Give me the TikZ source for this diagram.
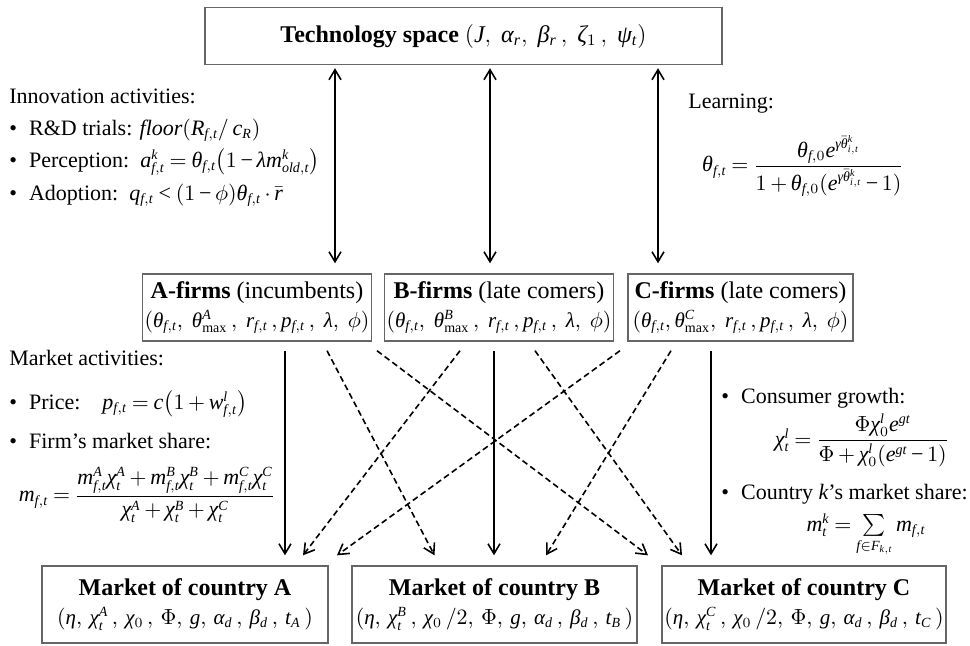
\documentclass[tikz,border=0pt]{standalone}
\usepackage{amsmath}
\usepackage{fontspec}
\setmainfont{Liberation Serif}
% Times-like italic letters and signs in math
\DeclareSymbolFont{tmsletters}{TU}{\rmdefault}{m}{it}
\newcount\lettercode
\lettercode=`a
\loop
	\Umathcode\lettercode="7 \symtmsletters \lettercode
	\Umathcode\numexpr\lettercode-32\relax="7 \symtmsletters \numexpr\lettercode-32\relax
	\ifnum\lettercode<`z \advance\lettercode by 1
\repeat
\Umathchardef\alpha="0 \symtmsletters "03B1
\Umathchardef\beta="0 \symtmsletters "03B2
\Umathchardef\gamma="0 \symtmsletters "03B3
\Umathchardef\zeta="0 \symtmsletters "03B6
\Umathchardef\eta="0 \symtmsletters "03B7
\Umathchardef\theta="0 \symtmsletters "03B8
\Umathchardef\lambda="0 \symtmsletters "03BB
\Umathchardef\chi="0 \symtmsletters "03C7
\Umathchardef\psi="0 \symtmsletters "03C8
\Umathcode"3D="3 \symoperators "3D
\Umathcode"3C="3 \symoperators "3C
\Umathcode"2B="2 \symoperators "2B
\Umathcode"2D="2 \symoperators "2212
\Umathcode"28="4 \symoperators "28
\Umathcode"29="5 \symoperators "29
\DeclareMathSizes{12}{12}{8}{6}
\DeclareMathSizes{11}{11}{7}{5}
\DeclareMathSizes{10.5}{10.5}{7}{5}
\newcommand\tightmath{\medmuskip=3mu\relax\thickmuskip=4mu\relax}
\newcommand\parsize{\fontsize{10.5}{14.5}\selectfont}
\usepackage{tikz}
\usetikzlibrary{arrows.meta,calc}

\begin{document}
\begin{tikzpicture}[
		x=0.5pt, y=-0.5pt,
		box/.style = {draw=black!60, line width=0.7pt, align=center, inner sep=1pt, font=\fontsize{12}{14.5}\selectfont},
		txt/.style = {anchor=west, inner sep=0pt, font=\fontsize{11}{13}\selectfont\tightmath},
		eq/.style = {inner sep=0pt, font=\fontsize{11}{13}\selectfont\tightmath},
		flow/.style = {->, line width=0.8pt},
		cross/.style = {->, line width=0.8pt, dash pattern=on 3pt off 1.8pt},
		dbl/.style = {<->, line width=0.8pt},
		>={Straight Barb[length=5pt,width=6pt]}
	]
	\useasboundingbox (0,0) rectangle (970,645);

	% boxes
	\node[box, minimum width=258.5pt, minimum height=28.5pt] (tech) at (463.5,36) {\textbf{Technology space} $(J,\ \alpha_r,\ \beta_r\,,\ \zeta_1\,,\ \psi_t)$};
	\node[box, minimum width=112.5pt, minimum height=33.5pt] (afirm) at (257,307.5) {\textbf{A-firms} (incumbents)\\\parsize$(\theta_{f,t},\ \theta^{A}_{\max}\,,\ r_{f,t}\,,p_{f,t}\,,\ \lambda,\ \phi)$};
	\node[box, minimum width=113pt, minimum height=33.5pt] (bfirm) at (499,307.5) {\textbf{B-firms} (late comers)\\\parsize$(\theta_{f,t},\ \theta^{B}_{\max}\,,\ r_{f,t}\,,p_{f,t}\,,\ \lambda,\ \phi)$};
	\node[box, minimum width=112.5pt, minimum height=33.5pt] (cfirm) at (740.5,307.5) {\textbf{C-firms} (late comers)\\\parsize$(\theta_{f,t},\theta^{C}_{\max},\ r_{f,t}\,,p_{f,t}\,,\ \lambda,\ \phi)$};
	\node[box, minimum width=143pt, minimum height=38.5pt] (mktA) at (185,604.5) {\textbf{Market of country A}\\\parsize$(\eta,\,\chi^{A}_{t}\,,\,\chi_0\,,\,\Phi,\,g,\,\alpha_d\,,\,\beta_d\,,\,t_A\,)$};
	\node[box, minimum width=142.5pt, minimum height=38.5pt] (mktB) at (494.5,604.5) {\textbf{Market of country B}\\\parsize$(\eta,\,\chi^{B}_{t}\,,\,\chi_0\,/2,\,\Phi,\,g,\,\alpha_d\,,\,\beta_d\,,\,t_B\,)$};
	\node[box, minimum width=142pt, minimum height=38.5pt] (mktC) at (804,604.5) {\textbf{Market of country C}\\\parsize$(\eta,\,\chi^{C}_{t}\,,\,\chi_0\,/2,\,\Phi,\,g,\,\alpha_d\,,\,\beta_d\,,\,t_C\,)$};

	% innovation side
	\node[txt] (innov) at (9,96) {Innovation activities:};
	\node[txt] (trial) at (9,130) {\textbullet\hspace{6pt}R\&D trials: $\mathit{floor}(R_{f,t}/\,c_R)$};
	\node[txt] (perc)  at (9,162) {\textbullet\hspace{6pt}Perception:\ \ $a^{k}_{f,t}=\theta_{f,t}\bigl(1-\lambda m^{k}_{old,t}\bigr)$};
	\node[txt] (adopt) at (9,195) {\textbullet\hspace{6pt}Adoption:\ \ $q_{f,t}<(1-\phi)\theta_{f,t}\cdot\bar{r}$};
	\node[txt] (learn) at (688,104) {Learning:};
	\node[eq]  (learneq) at (803,166) {$\theta_{f,t}=\dfrac{\theta_{f,0}e^{\gamma\bar{\theta}^{k}_{i,t}}}{1+\theta_{f,0}(e^{\gamma\bar{\theta}^{k}_{i,t}}-1)}$};

	% market side
	\node[txt] (mact)  at (9,358) {Market activities:};
	\node[txt] (price) at (9,404) {\textbullet\hspace{6pt}Price:\quad $p_{f,t}=c\bigl(1+w^{l}_{f,t}\bigr)$};
	\node[txt] (fshare) at (9,441) {\textbullet\hspace{6pt}Firm’s market share:};
	\node[eq]  (fsheq) at (147,495) {$m_{f,t}=\dfrac{m^{A}_{f,t}\chi^{A}_{t}+m^{B}_{f,t}\chi^{B}_{t}+m^{C}_{f,t}\chi^{C}_{t}}{\chi^{A}_{t}+\chi^{B}_{t}+\chi^{C}_{t}}$};
	\node[txt] (growth) at (721,398) {\textbullet\hspace{6pt}Consumer growth:};
	\node[eq]  (groweq) at (862,440) {$\chi^{l}_{t}=\dfrac{\Phi\chi^{l}_{0}e^{gt}}{\Phi+\chi^{l}_{0}(e^{gt}-1)}$};
	\node[txt] (kshare) at (721,494) {\textbullet\hspace{6pt}Country $k$’s market share:};
	\node[eq]  (ksheq) at (866,535) {$m^{k}_{t}=\sum\limits_{f\in F_{k,t}}m_{f,t}$};

	% technology links
	\coordinate (ua) at ($(afirm.north)+(78,-10)$);
	\coordinate (ub) at ($(bfirm.north)+(-9,-10)$);
	\coordinate (uc) at ($(cfirm.north)+(-82.5,-10)$);
	\draw[dbl, shorten >=1.5pt] (ua) -- (ua |- tech.south);
	\draw[dbl, shorten >=1.5pt] (ub) -- (ub |- tech.south);
	\draw[dbl, shorten >=1.5pt] (uc) -- (uc |- tech.south);

	% home markets
	\draw[flow] ($(afirm.south)+(28,9)$) -- ($(mktA.north)+(100,-10)$);
	\draw[flow] ($(bfirm.south)+(-5,9)$) -- ($(mktB.north)+(-0.5,-10)$);
	\draw[flow] ($(cfirm.south)+(-29.5,9)$) -- ($(mktC.north)+(-93,-10)$);
	% foreign markets
	\draw[cross] ($(afirm.south)+(70,9)$) -- ($(mktB.north)+(-60,-10)$);
	\draw[cross] ($(afirm.south)+(120,9)$) -- ($(mktC.north)+(-156,-10)$);
	\draw[cross] ($(bfirm.south)+(-39,9)$) -- ($(mktA.north)+(118,-10)$);
	\draw[cross] ($(bfirm.south)+(36,9)$) -- ($(mktC.north)+(-122,-10)$);
	\draw[cross] ($(cfirm.south)+(-120.5,9)$) -- ($(mktA.north)+(152,-10)$);
	\draw[cross] ($(cfirm.south)+(-69.5,9)$) -- ($(mktB.north)+(51.5,-10)$);
\end{tikzpicture}
\end{document}
